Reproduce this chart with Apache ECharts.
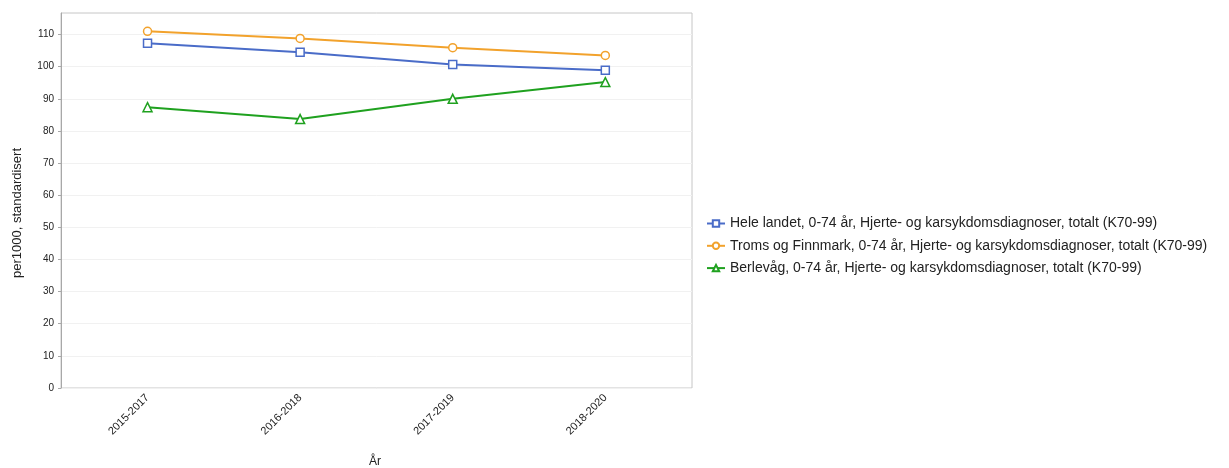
<!DOCTYPE html>
<html>
<head>
<meta charset="utf-8">
<script src="https://cdn.jsdelivr.net/npm/echarts@6/dist/echarts.min.js"></script>
<style>
  html, body { margin: 0; padding: 0; background: #fff; }
  #chart { width: 1229px; height: 468px; }
</style>
</head>
<body>
<div id="chart"></div>
<script>
// Periods (three-year rolling averages)
const periods = ['2015-2017', '2016-2018', '2017-2019', '2018-2020'];

// per 1000, age-standardised
const heleLandet = [107.3, 104.5, 100.7, 98.9];
const tromsFinnmark = [111.0, 108.8, 105.9, 103.5];
const berlevag = [87.4, 83.7, 90.0, 95.2];

const seriesNames = [
  'Hele landet, 0-74 år, Hjerte- og karsykdomsdiagnoser, totalt (K70-99)',
  'Troms og Finnmark, 0-74 år, Hjerte- og karsykdomsdiagnoser, totalt (K70-99)',
  'Berlevåg, 0-74 år, Hjerte- og karsykdomsdiagnoser, totalt (K70-99)'
];

const yTicks = [0, 10, 20, 30, 40, 50, 60, 70, 80, 90, 100, 110];

const FONT = 'Arial, "Liberation Sans", sans-serif';
const colors = ['#4a6cc8', '#f2a22c', '#1fa11f'];
const symbols = ['rect', 'circle', 'triangle'];

const toPoints = arr => arr.map((v, i) => [i, v]);

const chart = echarts.init(document.getElementById('chart'), null, { renderer: 'canvas' });

chart.setOption({
  animation: false,
  backgroundColor: '#ffffff',
  textStyle: { fontFamily: FONT },
  grid: {
    left: 61, right: 537, top: 13, bottom: 80,
    show: true, borderColor: '#c6c6c6', borderWidth: 1, backgroundColor: 'transparent'
  },
  xAxis: {
    type: 'value',
    min: -0.567,
    max: 3.568,
    axisLine: { show: false, onZero: false },
    axisTick: { show: false },
    splitLine: { show: false },
    axisLabel: {
      customValues: periods.map((p, i) => i),
      formatter: v => periods[Math.round(v)] || '',
      rotate: 45,
      margin: 8,
      fontSize: 11,
      color: '#222',
      fontFamily: FONT
    }
  },
  yAxis: {
    type: 'value',
    min: 0,
    max: 116.7,
    axisLine: { show: true, onZero: false, lineStyle: { color: '#a8a8a8', width: 1 } },
    axisTick: { show: true, length: 3, customValues: yTicks, lineStyle: { color: '#a8a8a8' } },
    splitLine: { show: true, lineStyle: { color: '#f1f1f1', width: 1 } },
    axisLabel: {
      customValues: yTicks,
      margin: 7,
      fontSize: 10,
      color: '#222',
      fontFamily: FONT
    }
  },
  legend: {
    orient: 'vertical',
    left: 706,
    top: 215.5,
    padding: 0,
    itemWidth: 18,
    itemHeight: 8,
    itemGap: 6.3,
    textStyle: { fontSize: 14, color: '#222', fontFamily: FONT, lineHeight: 16 },
    data: seriesNames
  },
  series: [heleLandet, tromsFinnmark, berlevag].map((arr, k) => ({
    name: seriesNames[k],
    type: 'line',
    data: toPoints(arr),
    symbol: symbols[k],
    symbolSize: k === 2 ? 9 : 8,
    showAllSymbol: true,
    lineStyle: { color: colors[k], width: 2 },
    itemStyle: { color: '#ffffff', borderColor: colors[k], borderWidth: 1.5 },
    emphasis: { disabled: true }
  })),
  graphic: [
    {
      type: 'text',
      x: 17, y: 213,
      rotation: Math.PI / 2,
      style: {
        text: 'per1000, standardisert',
        fontSize: 13, fill: '#222', fontFamily: FONT,
        align: 'center', verticalAlign: 'middle'
      }
    },
    {
      type: 'text',
      x: 375, y: 462,
      style: {
        text: 'År',
        fontSize: 12, fill: '#222', fontFamily: FONT,
        align: 'center', verticalAlign: 'middle'
      }
    }
  ]
});
</script>
</body>
</html>
